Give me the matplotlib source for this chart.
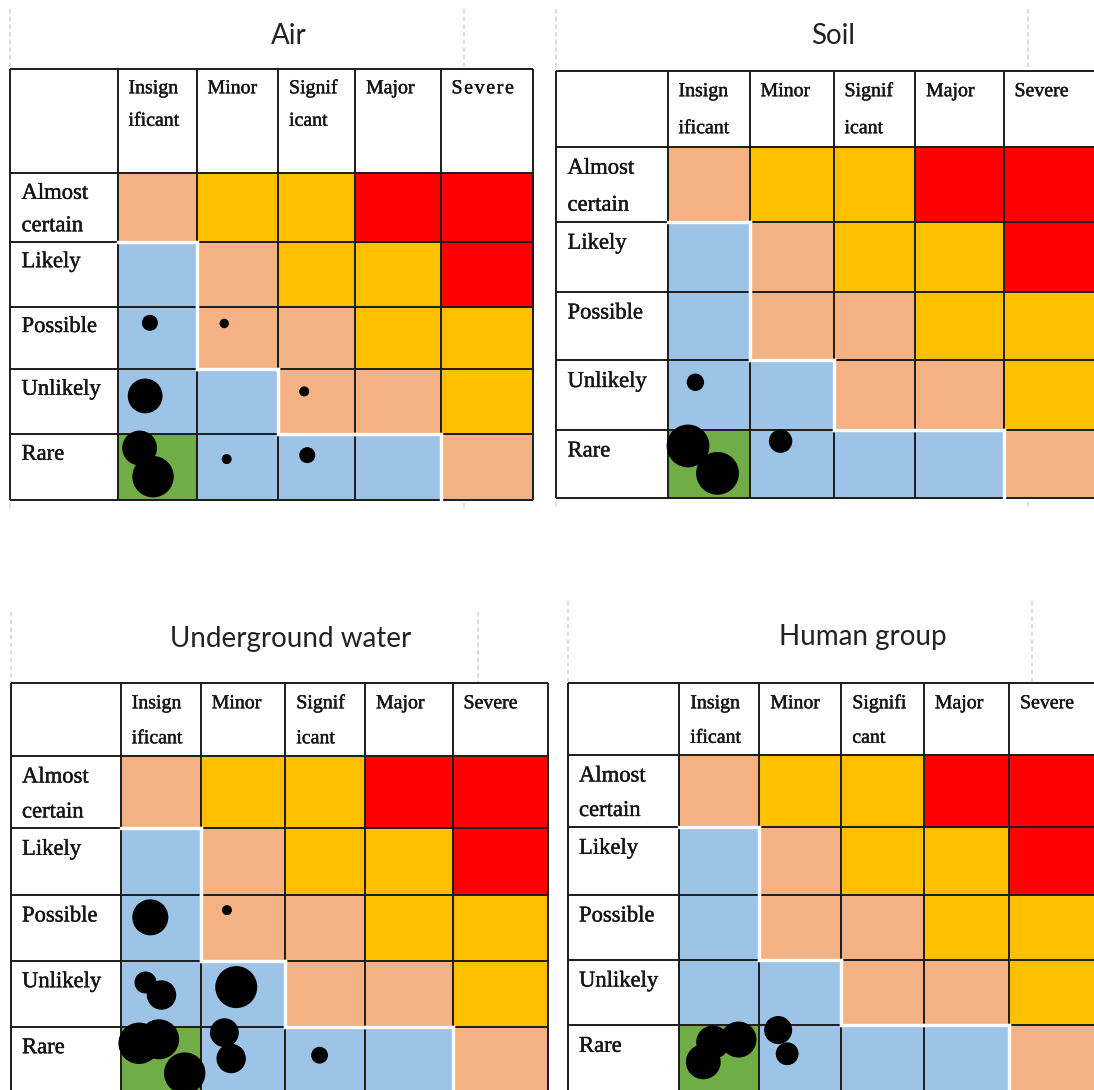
import matplotlib
matplotlib.use("Agg")
import matplotlib.pyplot as plt
import matplotlib.patheffects as pe
from matplotlib.colors import ListedColormap
from matplotlib.patches import Circle

# ---- data -------------------------------------------------------------
likelihood = ["Almost certain", "Likely", "Possible", "Unlikely", "Rare"]
consequence = ["Insignificant", "Minor", "Significant", "Major", "Severe"]

# risk level of every cell (rows = likelihood, cols = consequence)
# 0 = very low, 1 = low, 2 = medium, 3 = high, 4 = extreme
risk_levels = [[2, 3, 3, 4, 4],
               [1, 2, 3, 3, 4],
               [1, 2, 2, 3, 3],
               [1, 1, 2, 2, 3],
               [0, 1, 1, 1, 2]]
risk_colors = ["#70AD47", "#9DC3E6", "#F4B183", "#FFC000", "#FF0000"]

row_labels = [["Almost", "certain"], ["Likely"], ["Possible"], ["Unlikely"], ["Rare"]]

hs = "\u200a"
air_headers = [["Insign", "ificant"], ["Minor"], ["Signif", "icant"], ["Major"],
               [hs.join("Severe")]]
soil_headers = [["Insign", "ificant"], ["Minor"], ["Signif", "icant"], ["Major"], ["Severe"]]
water_headers = [["Insign", "ificant"], ["Minor"], ["Signif", "icant"], ["Major"], ["Severe"]]
human_headers = [["Insign", "ificant"], ["Minor"], ["Signifi", "cant"], ["Major"], ["Severe"]]

# bubbles: (likelihood, consequence, x place in cell, y place in cell, radius px)
air_bubbles = [("Possible", "Insignificant", 0.41, 0.26, 7.3),
               ("Possible", "Minor", 0.34, 0.27, 4.0),
               ("Unlikely", "Insignificant", 0.35, 0.41, 16.7),
               ("Unlikely", "Significant", 0.34, 0.34, 4.3),
               ("Rare", "Insignificant", 0.28, 0.21, 16.7),
               ("Rare", "Insignificant", 0.45, 0.65, 20.0),
               ("Rare", "Minor", 0.37, 0.38, 4.3),
               ("Rare", "Significant", 0.38, 0.32, 7.3)]
soil_bubbles = [("Unlikely", "Insignificant", 0.34, 0.32, 8.0),
                ("Rare", "Insignificant", 0.25, 0.24, 20.7),
                ("Rare", "Insignificant", 0.61, 0.64, 20.7),
                ("Rare", "Minor", 0.37, 0.17, 11.0)]
water_bubbles = [("Possible", "Insignificant", 0.37, 0.34, 17.3),
                 ("Possible", "Minor", 0.31, 0.23, 4.3),
                 ("Unlikely", "Insignificant", 0.31, 0.33, 10.3),
                 ("Unlikely", "Insignificant", 0.51, 0.52, 14.0),
                 ("Unlikely", "Minor", 0.42, 0.40, 20.3),
                 ("Rare", "Insignificant", 0.23, 0.25, 20.0),
                 ("Rare", "Insignificant", 0.48, 0.19, 19.3),
                 ("Rare", "Insignificant", 0.80, 0.70, 20.0),
                 ("Rare", "Minor", 0.28, 0.09, 13.7),
                 ("Rare", "Minor", 0.36, 0.48, 14.0),
                 ("Rare", "Significant", 0.43, 0.43, 7.7)]
human_bubbles = [("Rare", "Insignificant", 0.30, 0.54, 16.7),
                 ("Rare", "Insignificant", 0.42, 0.25, 16.0),
                 ("Rare", "Insignificant", 0.74, 0.21, 17.3),
                 ("Rare", "Minor", 0.23, 0.07, 13.3),
                 ("Rare", "Minor", 0.34, 0.42, 10.7)]

# ---- layout (pixels) --------------------------------------------------
panels = [
    dict(title="Air", headers=air_headers, bubbles=air_bubbles,
         cols=[10, 117.5, 196.5, 278, 355, 440.5, 532.5],
         rows=[69.3, 173.3, 241.7, 306.5, 369.3, 434.3, 499.5],
         title_xy=(288.5, 43.5), dash_x=[10, 463.5], dash_y=(9, 68),
         low_dash=(503, 509), line_gap=32.5, first=24.5),
    dict(title="Soil", headers=soil_headers, bubbles=soil_bubbles,
         cols=[556, 667.5, 749.5, 833.5, 915, 1003.5, 1110],
         rows=[70.7, 146.7, 221.7, 291.5, 360, 429.5, 498],
         title_xy=(833.5, 43.5), dash_x=[556, 1028], dash_y=(9, 69),
         low_dash=(502, 508), line_gap=37, first=26),
    dict(title="Underground water", headers=water_headers, bubbles=water_bubbles,
         cols=[10.5, 120.7, 200.7, 285.3, 365, 452.5, 547.5],
         rows=[683.3, 756, 828.3, 895, 960.7, 1026.7, 1093],
         title_xy=(290.5, 646.5), dash_x=[10.5, 477.5], dash_y=(612, 682),
         low_dash=None, line_gap=35, first=25.5),
    dict(title="Human group", headers=human_headers, bubbles=human_bubbles,
         cols=[567.5, 679.3, 759.3, 841.3, 923.8, 1009, 1110],
         rows=[683.3, 755, 827.3, 895, 960, 1025.3, 1093],
         title_xy=(863, 645.5), dash_x=[567.5, 1031.5], dash_y=(601, 682),
         low_dash=None, line_gap=34.5, first=25.5),
]

serif = "Liberation Serif"
grid_color = "#1c1c1c"
text_color = "#151515"
thicken = [pe.withStroke(linewidth=0.3, foreground=text_color)]

fig = plt.figure(figsize=(10.94, 10.90), dpi=100)
ax = fig.add_axes([0, 0, 1, 1])
ax.set_xlim(0, 1094)
ax.set_ylim(1090, 0)
ax.axis("off")

cmap = ListedColormap(risk_colors)

for p in panels:
    cols, rows = p["cols"], p["rows"]

    # dashed guide lines around the title
    for x in p["dash_x"]:
        ax.plot([x, x], p["dash_y"], color="#d2d2d2", lw=1.1, ls=(0, (3, 2)), zorder=1)
        if p["low_dash"]:
            ax.plot([x, x], p["low_dash"], color="#d2d2d2", lw=1.1, ls=(0, (3, 2)), zorder=1)

    # coloured risk cells
    ax.pcolormesh(cols[1:], rows[1:], risk_levels, cmap=cmap, vmin=-0.5, vmax=4.5,
                  zorder=1)

    # table grid
    ax.vlines(cols, rows[0], rows[-1], colors=grid_color, lw=1.4, zorder=2)
    ax.hlines(rows, cols[0], cols[-1], colors=grid_color, lw=1.4, zorder=2)

    # white boundary between low and medium cells
    n = len(likelihood)
    for i in range(n):
        for j in range(n):
            low = risk_levels[i][j] <= 1
            if j + 1 < n and low != (risk_levels[i][j + 1] <= 1):
                x = cols[j + 2]
                ax.plot([x, x], [rows[i + 1], rows[i + 2]], color="white", lw=2.4,
                        solid_capstyle="projecting", zorder=3)
            if i > 0 and low != (risk_levels[i - 1][j] <= 1):
                y = rows[i + 1]
                ax.plot([cols[j + 1], cols[j + 2]], [y, y], color="white", lw=2.4,
                        solid_capstyle="projecting", zorder=3)

    # header labels
    for j, lines in enumerate(p["headers"]):
        for k, s in enumerate(lines):
            ax.text(cols[j + 1] + 11, rows[0] + p["first"] - 0.5 + k * p["line_gap"], s,
                    family=serif, fontsize=14.3, va="baseline", ha="left",
                    color=text_color, path_effects=thicken, zorder=5)

    # likelihood labels
    for i, lines in enumerate(row_labels):
        for k, s in enumerate(lines):
            ax.text(cols[0] + 11.5, rows[i + 1] + p["first"] + 1 + k * p["line_gap"], s,
                    family=serif, fontsize=16.3, va="baseline", ha="left",
                    color=text_color, path_effects=thicken, zorder=5)

    # bubbles
    for lk, cq, fx, fy, r in p["bubbles"]:
        i = likelihood.index(lk)
        j = consequence.index(cq)
        cx = cols[j + 1] + fx * (cols[j + 2] - cols[j + 1])
        cy = rows[i + 1] + fy * (rows[i + 2] - rows[i + 1])
        ax.add_patch(Circle((cx, cy), r, color="black", zorder=4))

    # title
    ax.text(p["title_xy"][0], p["title_xy"][1], p["title"], family=["Lato", "DejaVu Sans"],
            fontsize=20, ha="center", va="baseline", color="#222222", zorder=5)

fig.savefig("out.png", dpi=100, facecolor="white")
